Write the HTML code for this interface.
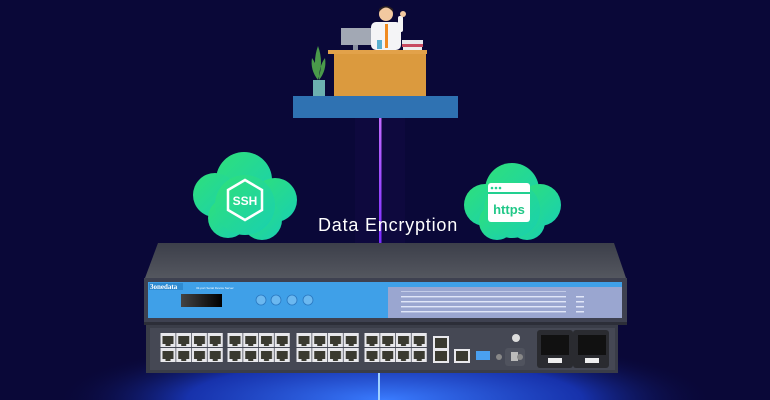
<!DOCTYPE html>
<html><head><meta charset="utf-8"><style>
html,body{margin:0;padding:0;background:#0a0838;width:770px;height:400px;overflow:hidden;}
svg{display:block}
</style></head><body>
<svg width="770" height="400" viewBox="0 0 770 400" xmlns="http://www.w3.org/2000/svg">
<defs>
<radialGradient id="glow" cx="385" cy="400" r="330" gradientUnits="userSpaceOnUse" gradientTransform="translate(0,400) scale(1,0.2) translate(0,-400)">
<stop offset="0" stop-color="#3a7cff" stop-opacity="1"/>
<stop offset="0.6" stop-color="#1a3cc8" stop-opacity="0.8"/>
<stop offset="1" stop-color="#0a0838" stop-opacity="0"/>
</radialGradient>
<linearGradient id="beam" x1="0" y1="0" x2="0" y2="1">
<stop offset="0" stop-color="#c26bff"/><stop offset="1" stop-color="#7a2cff"/>
</linearGradient>
<linearGradient id="cloud" x1="0" y1="0" x2="1" y2="1">
<stop offset="0" stop-color="#2fe07a"/><stop offset="1" stop-color="#19d0b0"/>
</linearGradient>
<linearGradient id="lid" x1="0" y1="0" x2="0" y2="1">
<stop offset="0" stop-color="#3c3f4a"/><stop offset="1" stop-color="#54575f"/>
</linearGradient>
<linearGradient id="lcd" x1="0" y1="0" x2="1" y2="0">
<stop offset="0" stop-color="#444"/><stop offset="1" stop-color="#000"/>
</linearGradient>
<pattern id="port" x="160" y="333" width="15.75" height="15" patternUnits="userSpaceOnUse">
<rect x="0.5" y="0" width="15" height="14" fill="#e8e8ec"/>
<path d="M2.5 3 h11 v8 h-3 v2 h-5 v-2 h-3z" fill="#3a3a30"/>
</pattern>
</defs>
<rect width="770" height="400" fill="#0a0838"/>
<rect x="0" y="320" width="770" height="80" fill="url(#glow)"/>
<rect x="378" y="372" width="2" height="28" fill="#9fd0ff"/>
<rect x="355" y="118" width="50" height="125" fill="#3a1a90" opacity="0.08"/>
<rect x="379" y="118" width="2.5" height="125" fill="url(#beam)"/>
<rect x="293" y="96" width="165" height="22" fill="#2f72b2"/>
<rect x="334" y="53" width="92" height="43" fill="#db9a3e"/>
<rect x="328" y="50" width="99" height="4" fill="#e2a24a"/>
<rect x="341" y="28" width="30" height="17" fill="#a2a8b4"/>
<rect x="353" y="45" width="5" height="5" fill="#8a90a0"/>
<rect x="371" y="22" width="30" height="28" rx="5" fill="#f4f4f6"/>
<rect x="385" y="24" width="3" height="24" fill="#f08a20"/>
<circle cx="386" cy="14" r="7" fill="#f2c9a0"/>
<path d="M379 12 q7 -9 14 0 v-3 q-7 -6 -14 0z" fill="#2b2020"/>
<rect x="398" y="16" width="5" height="16" rx="2" fill="#f4f4f6"/>
<circle cx="403" cy="14" r="3" fill="#f2c9a0"/>
<rect x="402" y="40" width="21" height="4" fill="#e8e8ec"/><rect x="402" y="44" width="21" height="3" fill="#c84a60"/><rect x="403" y="47" width="19" height="3" fill="#eee"/>
<rect x="377" y="40" width="5" height="9" fill="#5ab0d0"/>
<path d="M318 80 q-6 -18 0 -34 q6 16 0 34z M318 80 q-8 -10 -6 -22 q6 8 6 22z M319 80 q8 -10 6 -22 q-6 8 -6 22z" fill="#4a9a4a"/>
<rect x="313" y="80" width="12" height="16" fill="#6cb0b0"/>
<g fill="url(#cloud)">
<circle cx="244" cy="180" r="28"/><circle cx="215" cy="195" r="22"/><circle cx="275" cy="200" r="22"/>
<circle cx="228" cy="218" r="20"/><circle cx="262" cy="220" r="20"/><circle cx="245" cy="205" r="30"/>
<circle cx="512" cy="190" r="27"/><circle cx="485" cy="205" r="21"/><circle cx="540" cy="205" r="21"/>
<circle cx="497" cy="222" r="18"/><circle cx="527" cy="222" r="18"/><circle cx="512" cy="210" r="28"/>
</g>
<polygon points="245,180 262,190 262,210 245,220 228,210 228,190" fill="none" stroke="#fff" stroke-width="2.5"/>
<text x="245" y="205" font-family="Liberation Sans,sans-serif" font-weight="bold" font-size="12" fill="#fff" text-anchor="middle">SSH</text>
<rect x="488" y="183" width="42" height="39" rx="3" fill="#fff"/>
<rect x="488" y="192" width="42" height="2" fill="#22d090"/>
<circle cx="492" cy="188" r="1.3" fill="#22d090"/><circle cx="496" cy="188" r="1.3" fill="#22d090"/><circle cx="500" cy="188" r="1.3" fill="#22d090"/>
<text x="509" y="214" font-family="Liberation Sans,sans-serif" font-weight="bold" font-size="13" fill="#22c888" text-anchor="middle">https</text>
<text x="388" y="231" font-family="Liberation Sans,sans-serif" font-size="18" fill="#fff" text-anchor="middle" letter-spacing="0.8">Data Encryption</text>
<polygon points="158,243 614,243 626,278 145,278" fill="url(#lid)"/>
<rect x="144" y="278" width="483" height="44" fill="#3e4150"/>
<rect x="148" y="282" width="474" height="36" fill="#3fa0e8"/>
<rect x="388" y="287" width="234" height="31" fill="#9aa6d0"/>
<rect x="149" y="283" width="34" height="7" fill="#2e8ad0"/>
<text x="150" y="289" font-family="Liberation Serif,serif" font-weight="bold" font-size="7" fill="#fff">3onedata</text>
<text x="196" y="289" font-family="Liberation Sans,sans-serif" font-size="3" fill="#fff">32-port Serial Device Server</text>
<rect x="181" y="294" width="41" height="13" fill="url(#lcd)"/>
<g fill="#6bb8f0" stroke="#2a78c0" stroke-width="0.8">
<circle cx="261" cy="300" r="5"/><circle cx="276" cy="300" r="5"/><circle cx="292" cy="300" r="5"/><circle cx="308" cy="300" r="5"/></g>
<g fill="#e0e6f8">
<rect x="401" y="291" width="165" height="1" opacity="0.6"/>
<rect x="401" y="296" width="165" height="1.4"/><rect x="401" y="301" width="165" height="1.4"/><rect x="401" y="306" width="165" height="1.4"/><rect x="401" y="311" width="165" height="1.4"/>
<rect x="576" y="296" width="8" height="1.5"/><rect x="576" y="301" width="8" height="1.5"/><rect x="576" y="306" width="8" height="1.5"/><rect x="576" y="311" width="8" height="1.5"/>
</g>
<rect x="144" y="322" width="483" height="3" fill="#2c2e38"/>
<rect x="146" y="325" width="472" height="48" fill="#3a3d48"/>
<rect x="150" y="328" width="465" height="42" fill="#454854"/>
<rect x="160" y="333" width="63" height="29" fill="url(#port)"/>
<g transform="translate(67,0)"><rect x="160" y="333" width="63" height="29" fill="url(#port)"/></g>
<g transform="translate(136,0)"><rect x="160" y="333" width="63" height="29" fill="url(#port)"/></g>
<g transform="translate(204,0)"><rect x="160" y="333" width="63" height="29" fill="url(#port)"/></g>
<rect x="433" y="336" width="16" height="27" fill="#e8e8ec"/>
<rect x="435" y="338" width="12" height="10" fill="#3a3a30"/><rect x="435" y="351" width="12" height="10" fill="#3a3a30"/>
<rect x="454" y="349" width="16" height="14" fill="#e8e8ec"/><rect x="456" y="351" width="12" height="10" fill="#3a3a30"/>
<rect x="476" y="351" width="14" height="9" fill="#4aa0f0"/>
<circle cx="499" cy="357" r="3" fill="#888"/><rect x="505" y="348" width="20" height="18" rx="3" fill="#50535e"/><rect x="511" y="352" width="7" height="9" fill="#bbb"/><circle cx="520" cy="357" r="3" fill="#888"/>
<circle cx="516" cy="338" r="4" fill="#ddd"/>
<rect x="537" y="330" width="36" height="38" rx="3" fill="#2a2b30"/>
<rect x="573" y="330" width="36" height="38" rx="3" fill="#2a2b30"/>
<rect x="541" y="335" width="28" height="20" fill="#111"/><rect x="578" y="335" width="28" height="20" fill="#111"/>
<rect x="548" y="358" width="14" height="5" fill="#eee"/><rect x="585" y="358" width="14" height="5" fill="#eee"/>
</svg>
</body></html>
